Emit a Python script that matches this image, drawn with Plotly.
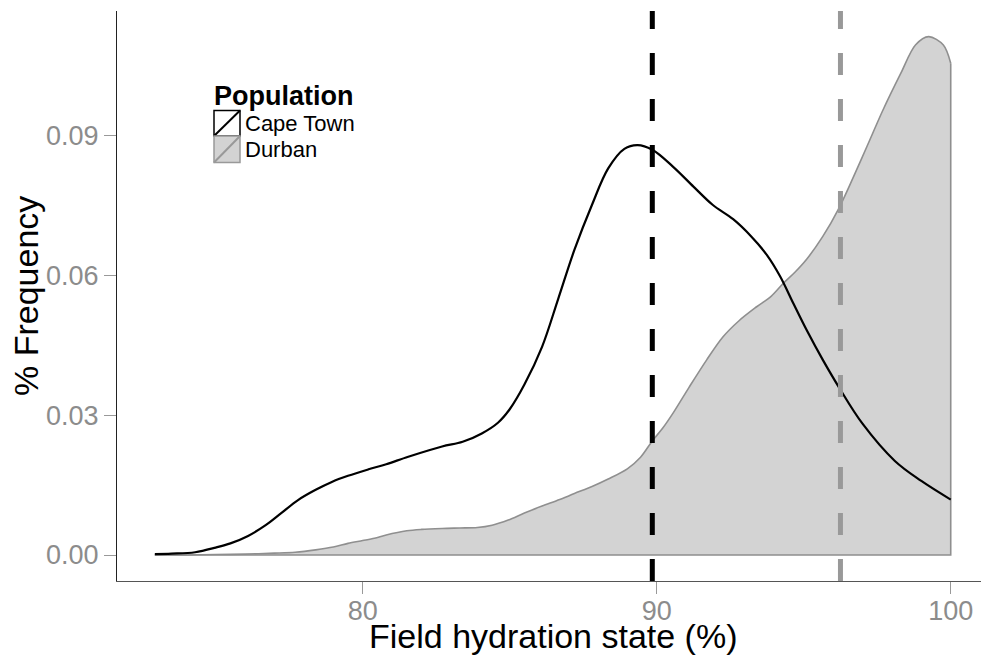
import plotly.graph_objects as go

# density curves (x = field hydration state %, y = density)
cape_town_x = [72.93, 73.5, 74.3, 75.0, 75.5, 76.1, 76.7, 77.25, 77.8, 78.4, 78.95, 79.5,
               80.2, 80.8, 81.55, 82.7, 83.4, 84.05, 84.6, 85.0, 85.5, 86.1, 86.65,
               87.2, 87.8, 88.35, 88.9, 89.35, 89.85, 90.55, 91.25, 91.9, 92.6, 93.2, 93.75,
               94.2, 94.65, 95.1, 95.65, 96.2, 97.0, 98.1, 99.0, 100.0]
cape_town_y = [0.0002, 0.0003, 0.0006, 0.0016, 0.0025, 0.0041, 0.0064, 0.0091, 0.0118, 0.0140,
               0.0157, 0.0170, 0.0184, 0.0195, 0.0211, 0.0233, 0.0243, 0.0261, 0.0284, 0.0313,
               0.0366, 0.0447, 0.0550, 0.0655, 0.0752, 0.0830, 0.0872, 0.0880, 0.0870,
               0.0834, 0.0791, 0.0752, 0.0721, 0.0685, 0.0644, 0.0598, 0.0540, 0.0483, 0.0419,
               0.0360, 0.0282, 0.0202, 0.0159, 0.0119]

durban_x = [72.93, 74.0, 75.0, 76.0, 77.0, 77.7, 78.4, 79.0, 79.5, 80.0, 80.4, 80.8, 81.5,
            82.0, 82.7, 83.3, 83.9, 84.4, 84.95, 85.5, 86.1, 86.7, 87.2, 87.8, 88.35, 89.0,
            89.45, 89.85, 90.2, 90.55, 91.1, 91.7, 92.25, 92.8, 93.4, 93.9, 94.3, 94.7, 95.1,
            95.65, 96.2, 96.7, 97.15, 97.7, 98.3, 98.8, 99.25, 99.75, 100.0]
durban_y = [0.0, 0.0, 0.0001, 0.0002, 0.0004, 0.0006, 0.0011, 0.0017, 0.0025, 0.0031, 0.0036,
            0.0043, 0.0052, 0.0055, 0.0057, 0.0058, 0.0059, 0.0064, 0.0075, 0.0090, 0.0105,
            0.0119, 0.0132, 0.0147, 0.0163, 0.0185, 0.0210, 0.0245, 0.0272, 0.0304, 0.0360,
            0.0419, 0.0468, 0.0503, 0.0533, 0.0556, 0.0583, 0.0607, 0.0635, 0.0684, 0.0745,
            0.0813, 0.0877, 0.0956, 0.1034, 0.1095, 0.1113, 0.1095, 0.1056]

cape_town_mean = 89.85
durban_mean = 96.25

x_ticks = [80, 90, 100]
y_ticks = [0.00, 0.03, 0.06, 0.09]

W, H = 981, 657
ML, MR, MT, MB = 117, 0, 11, 76
PW, PH = W - ML - MR, H - MT - MB

FONT = "Liberation Sans, Arial, sans-serif"
FILL = "#d3d3d3"
DGRAY = "#8f8f8f"


def px_x(px):
    return (px - ML) / PW


def px_y(py):
    return (H - MB - py) / PH


fig = go.Figure()

# Durban: filled density with full polygon outline
fig.add_trace(go.Scatter(
    x=durban_x, y=durban_y, mode="lines", fill="tozeroy", fillcolor=FILL,
    line=dict(color=DGRAY, width=1.6, shape="spline", smoothing=0.9),
    hoverinfo="skip", showlegend=False,
))
fig.add_trace(go.Scatter(
    x=[durban_x[-1], durban_x[-1], durban_x[0]], y=[durban_y[-1], 0, 0], mode="lines",
    line=dict(color=DGRAY, width=1.6), hoverinfo="skip", showlegend=False,
))

# Cape Town: outline only
fig.add_trace(go.Scatter(
    x=cape_town_x, y=cape_town_y, mode="lines",
    line=dict(color="black", width=2.2, shape="spline", smoothing=1.0),
    hoverinfo="skip", showlegend=False,
))

shapes = [
    dict(type="line", xref="x", yref="paper", x0=cape_town_mean, x1=cape_town_mean, y0=0, y1=1,
         line=dict(color="black", width=5, dash="22px,24px")),
    dict(type="line", xref="x", yref="paper", x0=durban_mean, x1=durban_mean, y0=0, y1=1,
         line=dict(color="#999999", width=5, dash="22px,24px")),
]

# hand-drawn legend keys (box + diagonal stroke like ggplot's density key)
kx0, kx1 = px_x(214), px_x(240)
keys = [(110.5, 136, "white", "black"), (136, 162.5, FILL, "#999999")]
for top, bot, fc, lc in keys:
    shapes.append(dict(type="rect", xref="paper", yref="paper", x0=kx0, x1=kx1,
                       y0=px_y(bot), y1=px_y(top), fillcolor=fc, line=dict(color=lc, width=1.5)))
    shapes.append(dict(type="line", xref="paper", yref="paper", x0=kx0, x1=kx1,
                       y0=px_y(bot), y1=px_y(top), line=dict(color=lc, width=2)))

annotations = [
    dict(text="<b>Population</b>", xref="paper", yref="paper", x=px_x(212), y=px_y(96),
         xanchor="left", yanchor="middle", showarrow=False, font=dict(size=27, color="black")),
    dict(text="Cape Town", xref="paper", yref="paper", x=px_x(243), y=px_y(123.5),
         xanchor="left", yanchor="middle", showarrow=False, font=dict(size=22, color="black")),
    dict(text="Durban", xref="paper", yref="paper", x=px_x(243), y=px_y(149.5),
         xanchor="left", yanchor="middle", showarrow=False, font=dict(size=22, color="black")),
    dict(text="Field hydration state (%)", xref="paper", yref="paper", x=px_x(553.5),
         y=px_y(636), xanchor="center", yanchor="middle", showarrow=False,
         font=dict(size=34, color="black")),
    dict(text="% Frequency", xref="paper", yref="paper", x=px_x(26), y=0.5, textangle=-90,
         xanchor="center", yanchor="middle", showarrow=False, font=dict(size=34, color="black")),
]

fig.update_layout(
    width=W, height=H,
    margin=dict(l=ML, r=MR, t=MT, b=MB, pad=0),
    paper_bgcolor="white", plot_bgcolor="white",
    font=dict(family=FONT),
    shapes=shapes, annotations=annotations,
    showlegend=False,
)
fig.update_xaxes(
    range=[71.643, 101.03], tickvals=x_ticks, ticktext=[str(v) for v in x_ticks],
    showgrid=False, zeroline=False, showline=True, linecolor="#555555", linewidth=1,
    ticks="outside", ticklen=12, tickcolor="#999999", tickwidth=1,
    tickfont=dict(size=27, color="#8c8c8c"), ticklabelstandoff=-6,
)
fig.update_yaxes(
    range=[-0.00558, 0.1168], tickvals=y_ticks, tickformat=".2f",
    showgrid=False, zeroline=False, showline=True, linecolor="#222222", linewidth=1,
    ticks="outside", ticklen=12, tickcolor="#999999", tickwidth=1,
    tickfont=dict(size=27, color="#8c8c8c"),
)

# the page body has a default 8px margin; drop it so the figure fills the window
fig.write_html("out.html", config={"displayModeBar": False},
               post_script="document.body.style.margin='0';")
